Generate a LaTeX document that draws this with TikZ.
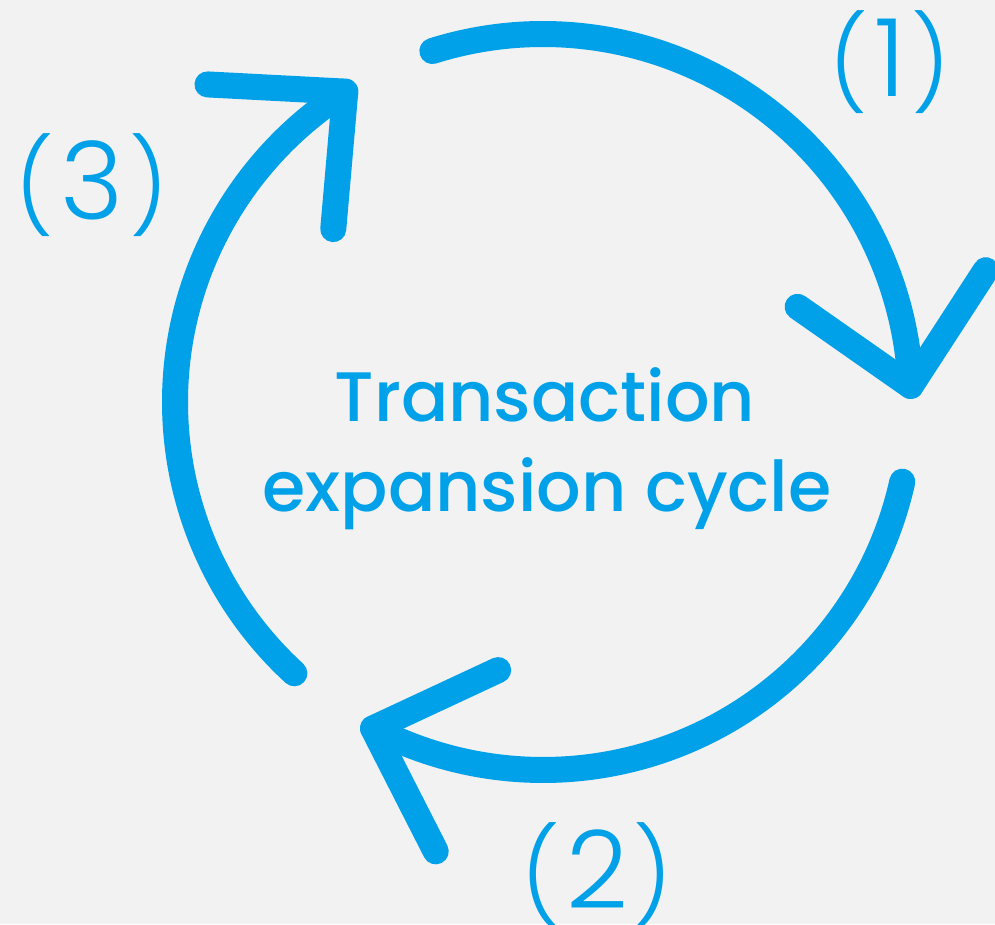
\documentclass[tikz,border=0pt]{standalone}
\usepackage{fontspec}
\setmainfont{Poppins}
\newfontfamily\lightfont{Poppins Light}
\newfontfamily\medfont{Poppins Medium}
\usetikzlibrary{calc}
\definecolor{cycblue}{RGB}{0,161,233}
\definecolor{paper}{RGB}{242,242,242}
% step number: lighter, smaller parentheses around a larger digit
\newcommand{\stepnum}[1]{{\fontsize{92}{100}\selectfont(}\kern6pt#1\kern6pt{\fontsize{92}{100}\selectfont)}}
\begin{document}
\begin{tikzpicture}[x=1pt,y=1pt,
  cycarc/.style={draw=cycblue, line width=26pt, line cap=round, line join=round},
  title/.style={text=cycblue, font=\medfont\fontsize{70}{78}\selectfont, anchor=base, inner sep=0pt},
  steplabel/.style={text=cycblue, font=\lightfont\fontsize{108}{116}\selectfont, anchor=base, inner sep=0pt}]
\fill[paper] (0,0) rectangle (995,924);
\useasboundingbox (0,0) rectangle (995,924);
% centre of the cycle and radius of the arcs
\coordinate (c) at (543,522);
\def\R{368pt}
% three clockwise arcs, each ending in an open chevron
\foreach \s [count=\i] in {107.5,-12.5,-132.5}{
  \pgfmathsetmacro\e{\s-105}
  \pgfmathsetmacro\b{\e+98.5}
  \coordinate (tip\i) at ($(c)+(\e:\R)$);
  \coordinate (armA\i) at ($(tip\i)+(\b+44:138pt)$);
  \coordinate (armB\i) at ($(tip\i)+(\b-44:138pt)$);
  \draw[cycarc] ($(c)+(\s:\R)$) arc[start angle=\s, end angle=\e, radius=\R];
  \draw[cycarc] (armA\i) -- (tip\i) -- (armB\i);
}
% centre title
\node[title] (t1) at (545,502) {Transaction};
\node[title] (t2) at (547,412) {expansion cycle};
% step numbers
\node[steplabel] (l1) at (890,827) {\stepnum{1}};
\node[steplabel] (l2) at (597,16) {\stepnum{2}};
\node[steplabel] (l3) at (92,704) {\stepnum{3}};
\end{tikzpicture}
\end{document}
